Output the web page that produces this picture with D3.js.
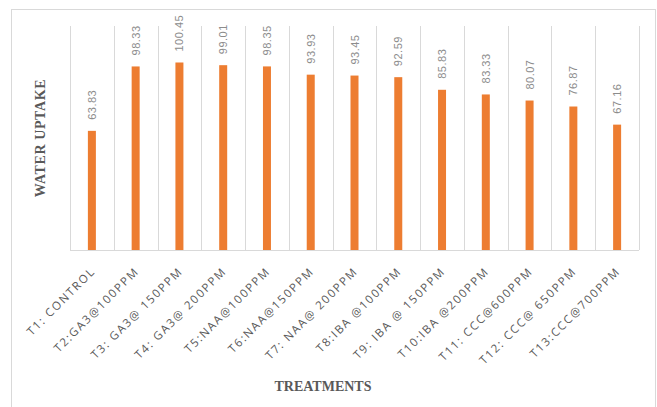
<!DOCTYPE html>
<html lang="en">
<head>
<meta charset="utf-8">
<script src="https://d3js.org/d3.v7.min.js"></script>
<style>
  body { margin: 0; background: #fff; }
</style>
</head>
<body>
<script type="text/javascript">

// treatment names and water uptake values
var treatments = ["T1: CONTROL", "T2:GA3@100PPM", "T3: GA3@ 150PPM", "T4: GA3@ 200PPM",
  "T5:NAA@100PPM", "T6:NAA@150PPM", "T7: NAA@ 200PPM", "T8:IBA @100PPM",
  "T9: IBA @ 150PPM", "T10:IBA @200PPM", "T11: CCC@600PPM", "T12: CCC@ 650PPM",
  "T13:CCC@700PPM"];
var uptake = [63.83, 98.33, 100.45, 99.01, 98.35, 93.93, 93.45, 92.59, 85.83, 83.33, 80.07, 76.87, 67.16];

var width = 657;
var height = 407;

// plot box (note: "top" is reserved on window, so use plotTop)
var plotLeft = 70, plotRight = 639, plotTop = 26, plotBottom = 250;

var svg = d3.select("body")
  .append("svg")
  .attr("width", width)
  .attr("height", height);

// outer chart frame
svg.append("rect")
  .attr("x", 11.5)
  .attr("y", 9.5)
  .attr("width", 644)
  .attr("height", 410)
  .attr("fill", "none")
  .attr("stroke", "#d9d9d9");

var x = d3.scaleBand()
  .domain(treatments)
  .range([plotLeft, plotRight]);

var y = d3.scaleLinear()
  .domain([0, 120])
  .range([plotBottom, plotTop]);

// vertical gridlines between categories
var edges = treatments.map(function(d) { return x(d); }).concat([plotRight]);
svg.selectAll("line.grid")
  .data(edges)
  .enter()
  .append("line")
  .attr("class", "grid")
  .attr("x1", function(d) { return Math.round(d) + 0.5; })
  .attr("x2", function(d) { return Math.round(d) + 0.5; })
  .attr("y1", plotTop)
  .attr("y2", plotBottom)
  .attr("stroke", "#d9d9d9");

// bottom axis line
svg.append("line")
  .attr("x1", plotLeft)
  .attr("x2", plotRight)
  .attr("y1", plotBottom + 0.5)
  .attr("y2", plotBottom + 0.5)
  .attr("stroke", "#d9d9d9");

var barW = 8;
svg.selectAll("rect.bar")
  .data(uptake)
  .enter()
  .append("rect")
  .attr("class", "bar")
  .attr("x", function(d, i) { return x(treatments[i]) + x.bandwidth() / 2 - barW / 2; })
  .attr("y", function(d) { return y(d); })
  .attr("width", barW)
  .attr("height", function(d) { return plotBottom - y(d); })
  .attr("fill", "#ed7d31");

// value labels, rotated
svg.selectAll("text.val")
  .data(uptake)
  .enter()
  .append("text")
  .attr("class", "val")
  .attr("transform", function(d, i) {
    return "translate(" + (x(treatments[i]) + x.bandwidth() / 2 + 4) + "," + (y(d) - 11) + ") rotate(-90)";
  })
  .attr("font-family", "Liberation Sans, Arial, sans-serif")
  .attr("font-size", "11px")
  .attr("letter-spacing", "0.5px")
  .attr("fill", "#8c8c8c")
  .text(function(d) { return d.toFixed(2); });

// category labels at -45 degrees
svg.selectAll("text.cat")
  .data(treatments)
  .enter()
  .append("text")
  .attr("class", "cat")
  .attr("text-anchor", "end")
  .attr("transform", function(d) {
    return "translate(" + (x(d) + x.bandwidth() / 2 + 4) + "," + (plotBottom + 22) + ") rotate(-45)";
  })
  .attr("font-family", "Open Sans, Liberation Sans, sans-serif")
  .attr("font-size", "11.5px")
  .attr("letter-spacing", "1.7px")
  .attr("fill", "#595959")
  .text(function(d) { return d; });

// axis titles
svg.append("text")
  .attr("transform", "translate(45,138) rotate(-90)")
  .attr("text-anchor", "middle")
  .attr("font-family", "Liberation Serif, Times New Roman, serif")
  .attr("font-weight", "bold")
  .attr("font-size", "14px")
  .attr("letter-spacing", "0.6px")
  .attr("fill", "#595959")
  .text("WATER UPTAKE");

svg.append("text")
  .attr("x", 323)
  .attr("y", 391)
  .attr("text-anchor", "middle")
  .attr("font-family", "Liberation Serif, Times New Roman, serif")
  .attr("font-weight", "bold")
  .attr("font-size", "14px")
  .attr("fill", "#595959")
  .text("TREATMENTS");

</script>
</body>
</html>
